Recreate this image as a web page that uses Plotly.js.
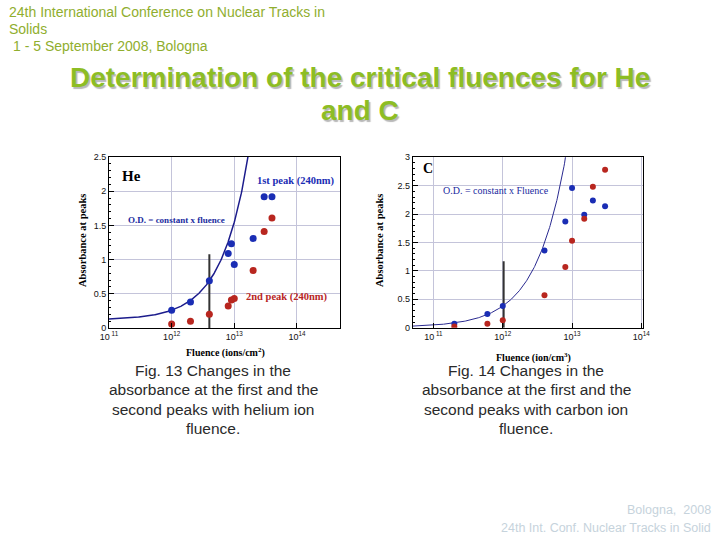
<!DOCTYPE html>
<html>
<head>
<meta charset="utf-8">
<script src="https://cdn.plot.ly/plotly-3.0.1.min.js"></script>
<style>
html,body{margin:0;padding:0;background:#fff;}
#chart{width:720px;height:540px;}
</style>
</head>
<body>
<div id="chart"></div>
<script>
// ---- Helium (Fig. 13) ----
const heFluence = [1e12, 2e12, 4e12, 8e12, 9e12, 1e13, 2e13, 3e13, 4e13];
const heAbsPeak1 = [0.26, 0.38, 0.69, 1.09, 1.23, 0.93, 1.31, 1.92, 1.92];
const heAbsPeak2 = [0.06, 0.10, 0.20, 0.32, 0.41, 0.43, 0.84, 1.41, 1.61];
const heFitOffset = 0.117;      // O.D. = offset + constant x fluence
const heFitConstant = 1.43e-13;
const heCriticalFluence = [4e12, 4e12];
const heCriticalLine = [0, 1.08];

// ---- Carbon (Fig. 14) ----
const cFluence = [2e11, 6e11, 1e12, 4e12, 8e12, 1e13, 1.5e13, 2e13, 3e13];
const cAbsPeak1 = [0.07, 0.24, 0.38, 1.36, 1.87, 2.46, 1.99, 2.24, 2.14];
const cAbsPeak2 = [0.02, 0.07, 0.13, 0.57, 1.07, 1.53, 1.92, 2.48, 2.78];
const cFitOffset = 0.01;
const cFitConstant = 3.7e-13;
const cCriticalFluence = [1.03e12, 1.03e12];
const cCriticalLine = [0, 1.17];

// ---- tick labels ----
const decadeVals = [1e11, 1e12, 1e13, 1e14];
const decadeText = ['10<sup> 11</sup>', '10<sup>12</sup>', '10<sup>13</sup>', '10<sup>14</sup>'];

const W = 720, H = 540;
const blue = '#1a2db4', red = '#b8261f';

function fitCurve(offset, k, lo, hi) {
  const xs = [], ys = [];
  const n = 300;
  for (let i = 0; i <= n; i++) {
    const x = Math.pow(10, lo + (hi - lo) * i / n);
    xs.push(x); ys.push(offset + k * x);
  }
  return {xs, ys};
}
const heFit = fitCurve(heFitOffset, heFitConstant, 11, 13.4);
const cFit = fitCurve(cFitOffset, cFitConstant, 10.7, 13.1);

const traces = [
  {x: heFit.xs, y: heFit.ys, xaxis:'x', yaxis:'y', mode:'lines', line:{color:'#1c1c8c', width:1.5}, hoverinfo:'skip'},
  {x: heCriticalFluence, y: heCriticalLine, xaxis:'x', yaxis:'y', mode:'lines', line:{color:'#333', width:2}},
  {x: heFluence, y: heAbsPeak1, xaxis:'x', yaxis:'y', mode:'markers', marker:{color:blue, size:7}},
  {x: heFluence, y: heAbsPeak2, xaxis:'x', yaxis:'y', mode:'markers', marker:{color:red, size:7}},
  {x: cFit.xs, y: cFit.ys, xaxis:'x2', yaxis:'y2', mode:'lines', line:{color:'#2a2a90', width:1}, hoverinfo:'skip'},
  {x: cCriticalFluence, y: cCriticalLine, xaxis:'x2', yaxis:'y2', mode:'lines', line:{color:'#333', width:2}},
  {x: cFluence, y: cAbsPeak1, xaxis:'x2', yaxis:'y2', mode:'markers', marker:{color:blue, size:6}},
  {x: cFluence, y: cAbsPeak2, xaxis:'x2', yaxis:'y2', mode:'markers', marker:{color:red, size:6}}
];

const tickFont = {family:'Liberation Sans, Arial', size:9, color:'#111'};
function xAxis(domain, range, anchor) {
  return {
    type:'log', domain, range, anchor,
    tickvals: decadeVals, ticktext: decadeText,
    ticks:'inside', ticklen:5, tickcolor:'#000',
    showline:true, mirror:true, linecolor:'#000', linewidth:1,
    showgrid:true, gridcolor:'#c4c4da', gridwidth:1,
    zeroline:false, tickfont: tickFont, fixedrange:true
  };
}
function yAxis(domain, range, anchor) {
  return {
    domain, range, anchor, dtick:0.5,
    ticks:'inside', ticklen:5, tickcolor:'#000',
    minor:{ticks:'inside', ticklen:2, tickcolor:'#000', dtick:0.1, showgrid:false},
    showline:true, mirror:true, linecolor:'#000', linewidth:1,
    showgrid:true, gridcolor:'#c4c4da', gridwidth:1,
    zeroline:false, tickfont: tickFont, fixedrange:true
  };
}

function px(x) { return x / W; }
function py(y) { return 1 - y / H; }
function ann(text, x, y, o) {
  o = o || {};
  return Object.assign({
    text, x: px(x), y: py(y), xref:'paper', yref:'paper',
    showarrow:false, xanchor:'center', yanchor:'middle',
    font:{family:'Liberation Sans, Arial', size:14, color:'#000'}
  }, o);
}
const serifB = (size, color) => ({family:'Liberation Serif, Times New Roman', size, color: color || '#000', weight:'bold'});
const serif = (size, color) => ({family:'Liberation Serif, Times New Roman', size, color: color || '#000'});
const headColor = '#90ae2e';
const titleFont = {family:'Liberation Sans, Arial', size:28, color:'#8dbd24', weight:'bold', shadow:'1.5px 1.5px 1px #b8b8b8'};
const headFont = {family:'Liberation Sans, Arial', size:14, color:headColor};
const captionFont = {family:'Liberation Sans, Arial', size:15.5, color:'#2a2a2a'};
const footFont = {family:'Liberation Sans, Arial', size:12.5, color:'#c6d3dc'};

const annotations = [
  // header
  ann('24th International Conference on Nuclear Tracks in', 7, 12, {xanchor:'left', font:headFont}),
  ann('Solids', 7, 29, {xanchor:'left', font:headFont}),
  ann('1 - 5 September 2008, Bologna', 11, 46, {xanchor:'left', font:headFont}),
  // title
  ann('Determination of the critical fluences for He', 360, 77, {font:titleFont}),
  ann('and C', 360, 111, {font:titleFont}),
  // chart 1 labels
  ann('He', 120, 176, {xanchor:'left', font:serifB(15)}),
  ann('1st peak (240nm)', 296, 181, {font:serifB(10.5, blue)}),
  ann('O.D. = constant x fluence', 176, 220, {font:serifB(9, '#1a2aa0')}),
  ann('2nd peak (240nm)', 287, 297, {font:serifB(10.5, red)}),
  ann('Fluence (ions/cm<sup>2</sup>)', 225, 352, {font:serifB(10)}),
  ann('Absorbance at peaks', 82, 241, {textangle:-90, font:serifB(10.5)}),
  // chart 2 labels
  ann('C', 421, 168, {xanchor:'left', font:serifB(14)}),
  ann('O.D. = constant x Fluence', 496, 191, {font:serif(10, '#1a2aa0')}),
  ann('Fluence (ion/cm<sup>3</sup>)', 533, 357, {font:serifB(10)}),
  ann('Absorbance at peaks', 379, 241, {textangle:-90, font:serifB(10.5)}),
  // captions
  ann('Fig. 13 Changes in the', 213, 370, {font:captionFont}),
  ann('absorbance at the first and the', 213, 389, {font:captionFont}),
  ann('second peaks with helium ion', 213, 409, {font:captionFont}),
  ann('fluence.', 213, 428, {font:captionFont}),
  ann('Fig. 14 Changes in the', 526, 370, {font:captionFont}),
  ann('absorbance at the first and the', 526, 389, {font:captionFont}),
  ann('second peaks with carbon ion', 526, 409, {font:captionFont}),
  ann('fluence.', 526, 428, {font:captionFont}),
  // footer
  ann('Bologna,  2008', 713, 510, {xanchor:'right', font:footFont}),
  ann('24th Int. Conf. Nuclear Tracks in Solid', 713, 528, {xanchor:'right', font:footFont})
];

const layout = {
  width: W, height: H,
  margin:{l:0, r:0, t:0, b:0},
  paper_bgcolor:'#fff', plot_bgcolor:'#fff',
  showlegend:false,
  xaxis: xAxis([px(109), px(339.5)], [11, 14.68], 'y'),
  yaxis: yAxis([py(328), py(157)], [0, 2.5], 'x'),
  xaxis2: xAxis([px(412.7), px(642.7)], [10.70, 14.02], 'y2'),
  yaxis2: yAxis([py(327.7), py(157.3)], [0, 3], 'x2'),
  annotations
};

Plotly.newPlot('chart', traces, layout, {staticPlot:true, displayModeBar:false});
</script>
</body>
</html>
